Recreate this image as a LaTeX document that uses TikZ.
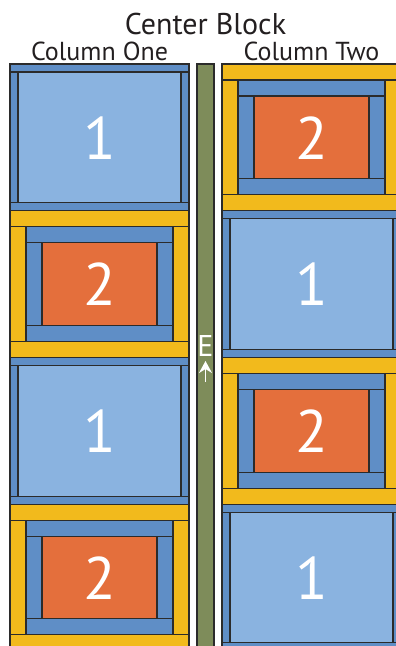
\documentclass[tikz,border=0pt]{standalone}
\usepackage{fontspec}
\setmainfont{PT Sans}
\definecolor{quiltSky}{HTML}{8AB3E0}
\definecolor{quiltBlue}{HTML}{5F8EC6}
\definecolor{quiltGold}{HTML}{F2BA1C}
\definecolor{quiltRust}{HTML}{E46F3C}
\definecolor{quiltSage}{HTML}{7E8C5A}
\definecolor{quiltSeam}{HTML}{2B2B2B}
\definecolor{quiltInk}{HTML}{231F20}
\usetikzlibrary{arrows.meta}

\begin{document}
\begin{tikzpicture}[x=1pt, y=-1pt,
  seam/.style={draw=quiltSeam, line width=1.2pt},
  digit/.style={text=white, anchor=base, inner sep=0pt,
    font=\fontsize{60}{60}\selectfont},
  heading/.style={text=quiltInk, anchor=base, inner sep=0pt,
    font=\fontsize{30}{30}\selectfont},
  colhead/.style={heading, font=\fontsize{26}{26}\selectfont},
  blockone/.pic={
    \draw[seam, fill=quiltBlue] (0,0) rectangle (179,8)
      (0,138.7) rectangle (179,146.7)
      (0,8) rectangle (8,138.7) (171,8) rectangle (179,138.7);
    \draw[seam, fill=quiltSky] (8,8) rectangle (171,138.7);
    \node[digit] (-num) at (89.5,95) {1};
  },
  blocktwo/.pic={
    \draw[seam, fill=quiltGold] (0,0) rectangle (179,16)
      (0,130.7) rectangle (179,146.7)
      (0,16) rectangle (16,130.7) (163,16) rectangle (179,130.7);
    \draw[seam, fill=quiltBlue] (16,16) rectangle (163,32)
      (16,114.7) rectangle (163,130.7)
      (16,32) rectangle (32,114.7) (147,32) rectangle (163,114.7);
    \draw[seam, fill=quiltRust] (32,32) rectangle (147,114.7);
    \node[digit] (-num) at (89.5,95) {2};
  }]
  \clip (0,0) rectangle (396,646);
  \node[heading] (title) at (205.5,34) {Center Block};
  \node[colhead] (colone) at (99.5,60) {Column One};
  \node[colhead] (coltwo) at (311.5,60) {Column Two};
  % column one
  \foreach \i in {0,2} \pic (left\i) at (10, 64+146.7*\i) {blockone};
  \foreach \i in {1,3} \pic (left\i) at (10, 64+146.7*\i) {blocktwo};
  % column two
  \foreach \i in {0,2} \pic (right\i) at (222, 64+146.7*\i) {blocktwo};
  \foreach \i in {1,3} \pic (right\i) at (222, 64+146.7*\i) {blockone};
  % strip between the columns
  \draw[seam, fill=quiltSage] (197,64) rectangle (214,660);
  \node[heading, text=white] (mark) at (205.5,356) {E};
  \coordinate (tail) at (205.5,382);
  \coordinate (tip) at (205.5,361);
  \draw[white, line width=1.5pt, -{Stealth[length=12pt, width=13pt, inset=4pt]}] (tail) -- (tip);
\end{tikzpicture}
\end{document}
